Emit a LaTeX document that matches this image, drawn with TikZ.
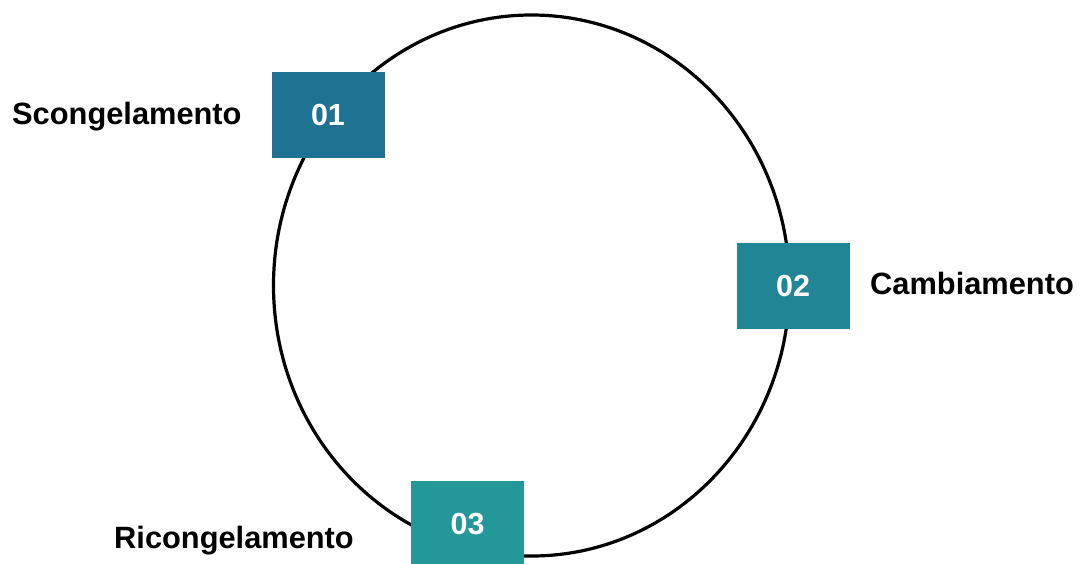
\documentclass[tikz,border=0pt]{standalone}
\usepackage{fontspec}
\usetikzlibrary{shapes.geometric}
\setmainfont{Liberation Sans}
\definecolor{cA}{HTML}{1F7291}
\definecolor{cB}{HTML}{228596}
\definecolor{cC}{HTML}{249798}
\begin{document}
\begin{tikzpicture}[x=1pt,y=-1pt,
  numbox/.style={minimum width=113pt,minimum height=86pt,inner sep=0pt,text=white,font=\fontsize{30.5}{36}\selectfont\bfseries},
  steplabel/.style={anchor=base west,inner sep=0pt,font=\fontsize{30.8}{36}\selectfont\bfseries,text=black}]
\useasboundingbox (0,0) rectangle (1081,563);
\fill[white] (0,0) rectangle (1081,563);
\node[draw=black,line width=3.2pt,ellipse,minimum width=516pt,minimum height=541pt,inner sep=0pt] (ring) at (531.5,285.5) {};
\node[numbox,fill=cA] (b1) at (328,115) {01};
\node[numbox,fill=cB] (b2) at (793,286) {02};
\node[numbox,fill=cC] (b3) at (467.5,524) {03};
\node[steplabel] (l1) at (12,124) {Scongelamento};
\node[steplabel] (l2) at (870,294) {Cambiamento};
\node[steplabel] (l3) at (114,548) {Ricongelamento};
\end{tikzpicture}
\end{document}
